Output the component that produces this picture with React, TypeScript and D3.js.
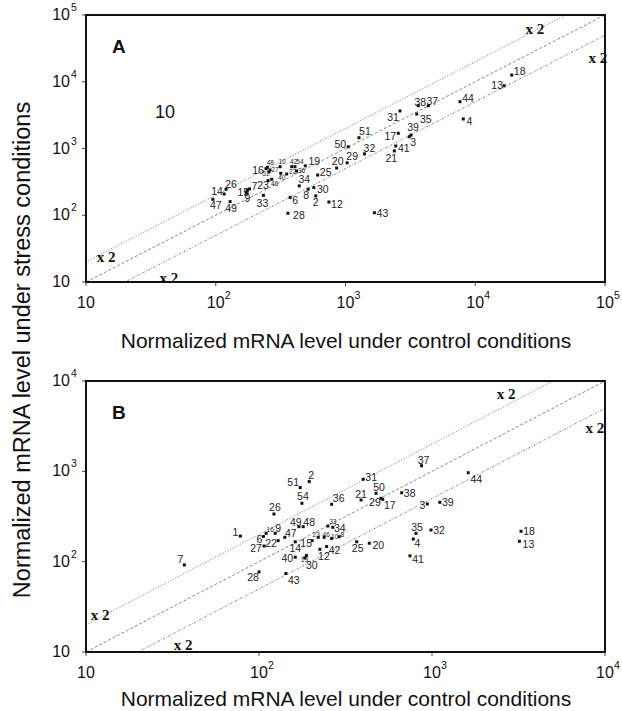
import React from 'react';
import * as d3 from 'd3';

// Panel A: stress vs control, decades 10..1e5
const genesA = ['51', '50', '32', '29', '20', '19', '25', '34', '30', '8', '2', '12', '6', '28', '33', '23', '46', '7', '15', '9', '14', '26', '47', '49', '16', '48', '27', '10', '42', '54', '22', '36', '40', '52', '31', '38', '37', '35', '44', '4', '18', '13', '17', '39', '3', '41', '21', '43'];
const controlA = [1270, 1050, 1400, 1030, 855, 490, 610, 440, 570, 515, 590, 745, 375, 360, 233, 253, 270, 182, 175, 172, 116, 120, 95, 129, 244, 250, 262, 313, 385, 408, 352, 420, 317, 257, 2630, 3640, 4350, 3540, 7630, 8090, 19100, 16700, 2550, 3200, 3100, 2440, 2380, 1670];
const stressA = [1450, 1060, 830, 610, 510, 550, 400, 275, 260, 245, 195, 158, 185, 107, 199, 330, 346, 248, 235, 215, 208, 245, 173, 160, 498, 523, 476, 534, 534, 534, 415, 460, 425, 445, 3650, 4380, 4380, 3290, 5030, 2770, 12600, 8730, 1690, 1590, 1500, 1090, 920, 109];

// Panel B: decades 10..1e4
const genesB = ['7', '1', '26', '51', '2', '54', '36', '31', '21', '50', '29', '17', '16', '6', '9', '27', '22', '49', '48', '47', '15', '14', '33', '34', '23', '46', '10', '8', '42', '12', '40', '19', '30', '25', '20', '28', '43', '37', '44', '38', '3', '39', '35', '32', '4', '41', '18', '13'];
const controlB = [37, 78, 122, 173, 195, 177, 263, 400, 389, 475, 507, 519, 110, 106, 124, 107, 129, 170, 180, 141, 203, 162, 250, 267, 220, 238, 263, 291, 246, 225, 162, 188, 184, 367, 434, 100, 143, 870, 1620, 668, 940, 1110, 808, 987, 780, 746, 3270, 3200];
const stressB = [92, 192, 337, 660, 770, 443, 432, 817, 482, 571, 503, 490, 206, 190, 206, 149, 171, 244, 244, 186, 171, 166, 248, 240, 186, 186, 181, 189, 147, 137, 112, 117, 110, 166, 160, 77, 74, 1155, 965, 580, 435, 454, 206, 224, 178, 116, 217, 168];

const expA = [1, 2, 3, 4, 5];
const expB = [1, 2, 3, 4];
const folds = [2, 1, 0.5];
const foldNotesA: [number, number][] = [[28840, 51900], [88300, 19100], [14.3, 19.9], [43.6, 9.7]];
const foldNotesB: [number, number][] = [[2680, 6320], [8750, 2655], [12.05, 22.6], [36.4, 10.5]];

const xTitle = 'Normalized mRNA level under control conditions';
const yTitle = 'Normalized mRNA level under stress conditions';

// label offsets from the dot (label centre), px
const offA: Record<string, [number, number]> = {
  '51': [6, -7], '50': [-8, -3], '32': [5, -6], '29': [5, -7], '20': [1, -7], '19': [9, -5],
  '25': [8, -3], '34': [5, -7], '30': [9, 1], '8': [-2, 6], '2': [0, 6], '12': [8, 2],
  '6': [5, 3], '28': [11, 2], '33': [-1, 8], '23': [-5, 4], '46': [3, 4], '7': [5, -3],
  '15': [-4, 2], '9': [1, 5], '14': [-7, -3], '26': [5, -5], '47': [3, 6], '49': [1, 6],
  '16': [-8, 1], '48': [3, -5], '27': [5, -1], '10': [2, -5], '42': [2, -5], '54': [5, -5],
  '22': [6, -2], '36': [5, -1], '40': [1, 4], '52': [-3, 2], '31': [-7, 6], '38': [2, -4],
  '37': [4, -5], '35': [9, 5], '44': [8, -4], '4': [6, 2], '18': [8, -4], '13': [-7, -1],
  '17': [-8, 3], '39': [2, -8], '3': [4, 5], '41': [8, 2], '21': [-3, 7], '43': [8, 0],
};
const offB: Record<string, [number, number]> = {
  '7': [-4, -6], '1': [-5, -4], '26': [1, -7], '51': [-7, -6], '2': [2, -7], '54': [1, -7],
  '36': [7, -6], '31': [8, -2], '21': [0, -6], '50': [3, -6], '29': [-6, 4], '17': [7, 6],
  '16': [4, -4], '6': [-4, 3], '9': [3, -5], '27': [-8, 2], '22': [-7, 2], '49': [-3, -5],
  '48': [6, -5], '47': [6, -4], '15': [-6, 2], '14': [0, 6], '33': [5, -5], '34': [7, 1],
  '23': [-2, -3], '46': [2, -3], '10': [3, -2], '8': [3, -2], '42': [8, 3], '12': [4, 7],
  '40': [-8, 1], '19': [-2, 4], '30': [7, 7], '25': [1, 6], '20': [9, 2], '28': [-6, 5],
  '43': [8, 7], '37': [2, -6], '44': [8, 6], '38': [8, 0], '3': [-5, 1], '39': [8, 0],
  '35': [1, -6], '32': [8, 0], '4': [4, 4], '41': [8, 3], '18': [8, 0], '13': [9, 3],
};
const tinyA = new Set(['48', '10', '42', '54', '27', '22', '36', '40', '46', '52']);
const tinyB = new Set(['16', '33', '23', '46', '10', '8', '19']);

const sans = '"Liberation Sans", Arial, sans-serif';
const serif = '"Liberation Serif", "Times New Roman", serif';

type PanelProps = {
  id: string;
  top: number;
  bottom: number;
  exps: number[];
  genes: string[];
  control: number[];
  stress: number[];
  offsets: Record<string, [number, number]>;
  tiny: Set<string>;
  notes: [number, number][];
  extra?: string;
};

function Panel({ id, top, bottom, exps, genes, control, stress, offsets, tiny, notes, extra }: PanelProps) {
  const left = 86;
  const right = 605;
  const max = 10 ** exps[exps.length - 1];
  const x = d3.scaleLog().domain([10, max]).range([left, right]);
  const y = d3.scaleLog().domain([10, max]).range([bottom, top]);
  const dash = ['1.2 1.6', '3 2', '2.2 1.4 0.8 1.4'];
  const clip = `clip-${id}`;

  return (
    <g>
      <defs>
        <clipPath id={clip}>
          <rect x={left} y={top} width={right - left} height={bottom - top} />
        </clipPath>
      </defs>

      {/* fold-change guide lines */}
      <g clipPath={`url(#${clip})`}>
        {folds.map((k, i) => (
          <line key={k} x1={x(10)} y1={y(10 * k)} x2={x(max)} y2={y(max * k)}
            stroke="#555" strokeWidth={0.7} strokeDasharray={dash[i]} />
        ))}
      </g>

      {/* points + labels */}
      {genes.map((g, i) => {
        const cx = x(control[i]);
        const cy = y(stress[i]);
        const [dx, dy] = offsets[g] || [6, 0];
        const small = tiny.has(g);
        return (
          <g key={g + i}>
            <rect x={cx - 1.5} y={cy - 1.5} width={3} height={3} fill="#111" />
            <text x={cx + dx} y={cy + dy} textAnchor="middle" dominantBaseline="central"
              fontFamily={sans} fontSize={small ? 6.5 : 10.5} fill="#222">{g}</text>
          </g>
        );
      })}

      {notes.map(([nx, ny], i) => (
        <text key={i} x={x(nx)} y={y(ny)} textAnchor="middle" fontFamily={serif}
          fontWeight="bold" fontSize={15} fill="#111">x 2</text>
      ))}

      <text x={left + 26} y={top + 38} fontFamily={sans} fontWeight="bold" fontSize={19} fill="#111">{id}</text>
      {extra && (
        <text x={left + 79} y={top + 103} textAnchor="middle" fontFamily={sans} fontSize={18} fill="#111">{extra}</text>
      )}

      {/* ticks */}
      {exps.map((e) => (
        <g key={'t' + e}>
          <line x1={x(10 ** e)} x2={x(10 ** e)} y1={bottom} y2={bottom + 4} stroke="#444" strokeWidth={1} />
          <line x1={left - 4} x2={left} y1={y(10 ** e)} y2={y(10 ** e)} stroke="#444" strokeWidth={1} />
          <text x={x(10 ** e)} y={bottom + 26} textAnchor="middle" fontFamily={sans} fontSize={16} fill="#111">10</text>
          {e > 1 && (
            <text x={x(10 ** e) + 9} y={bottom + 17} fontFamily={sans} fontSize={10.5} fill="#111">{e}</text>
          )}
          <text x={70} y={y(10 ** e) + 5} textAnchor="end" fontFamily={sans} fontSize={16} fill="#111">10</text>
          {e > 1 && (
            <text x={71} y={y(10 ** e) - 4} fontFamily={sans} fontSize={10.5} fill="#111">{e}</text>
          )}
        </g>
      ))}

      <rect x={left} y={top} width={right - left} height={bottom - top} fill="none" stroke="#111" strokeWidth={2} />
    </g>
  );
}

export default function App() {
  return (
    <svg width={622} height={711} style={{ position: 'absolute', left: 0, top: 0, background: '#fff' }}>
      <rect width={622} height={711} fill="#fff" />
      <Panel id="A" top={15} bottom={282} exps={expA} genes={genesA} control={controlA} stress={stressA}
        offsets={offA} tiny={tinyA} notes={foldNotesA} extra="10" />
      <text x={346} y={348} textAnchor="middle" fontFamily={sans} fontSize={21} fill="#111">{xTitle}</text>
      <Panel id="B" top={381} bottom={652} exps={expB} genes={genesB} control={controlB} stress={stressB}
        offsets={offB} tiny={tinyB} notes={foldNotesB} />
      <text x={346} y={706} textAnchor="middle" fontFamily={sans} fontSize={21} fill="#111">{xTitle}</text>
      <text transform="translate(30,350) rotate(-90)" textAnchor="middle" fontFamily={sans} fontSize={23.5} fill="#111">{yTitle}</text>
    </svg>
  );
}
